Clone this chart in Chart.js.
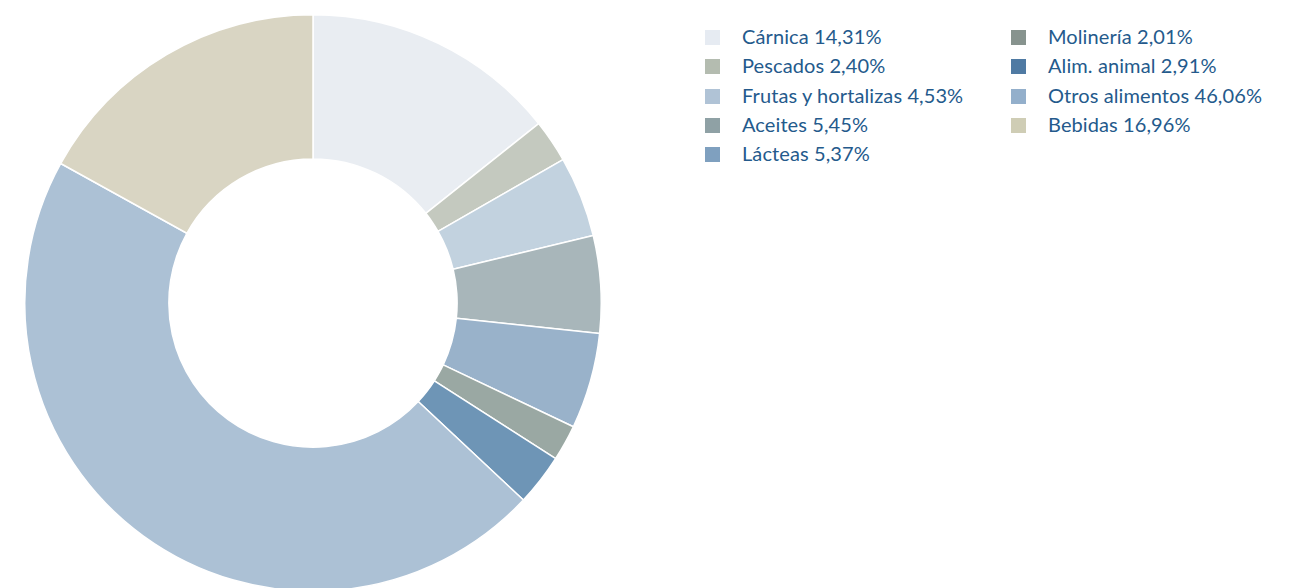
<!DOCTYPE html>
<html><head><meta charset="utf-8">
<script src="https://cdn.jsdelivr.net/npm/chart.js@4/dist/chart.umd.min.js"></script>
<style>
html,body{margin:0;padding:0;background:#fff;width:1298px;height:588px;overflow:hidden;position:relative;}
#wrap{position:absolute;left:24px;top:14px;width:578px;height:578px;}
.leg{position:absolute;font-family:Lato,sans-serif;font-size:20px;letter-spacing:0.1px;color:#245a8c;white-space:nowrap;}
.leg .sw{position:absolute;width:15px;height:15px;top:4px;}
.leg .tx{position:absolute;left:37px;top:-1px;line-height:22px;}
</style></head><body>
<div id="wrap"><canvas id="c"></canvas></div>
<div id="legend"></div>
<script>
const categories = ["Cárnica","Pescados","Frutas y hortalizas","Aceites","Lácteas","Molinería","Alim. animal","Otros alimentos","Bebidas"];
const values = [14.31,2.40,4.53,5.45,5.37,2.01,2.91,46.06,16.96];
const valueLabels = ["14,31%","2,40%","4,53%","5,45%","5,37%","2,01%","2,91%","46,06%","16,96%"];
const sliceColors = ["#e9edf2","#c4c9bf","#c2d2df","#a8b6ba","#99b2ca","#9aa8a3","#6e95b6","#acc1d5","#d9d5c3"];
const swatchColors = ["#e6ebf2","#b4bcb0","#b0c3d6","#8fa1a5","#7fa0bf","#87938e","#4f7aa3","#93afcb","#cfcdb5"];

new Chart(document.getElementById('c'), {
  type: 'doughnut',
  data: { labels: categories, datasets: [{ data: values, backgroundColor: sliceColors, borderColor: '#ffffff', borderWidth: 1.5 }] },
  options: {
    responsive: true, maintainAspectRatio: false, animation: false,
    cutout: '50%',
    layout: { padding: 0 },
    plugins: { legend: { display: false }, tooltip: { enabled: false } }
  }
});

const leg = document.getElementById('legend');
const colX = [705, 1011], rowY0 = 26, rowH = 29.3;
categories.forEach((name, i) => {
  const col = i < 5 ? 0 : 1, row = i < 5 ? i : i - 5;
  const d = document.createElement('div');
  d.className = 'leg';
  d.style.left = colX[col] + 'px';
  d.style.top = (rowY0 + row * rowH) + 'px';
  d.innerHTML = '<span class="sw" style="background:' + swatchColors[i] + '"></span><span class="tx">' + name + ' ' + valueLabels[i] + '</span>';
  leg.appendChild(d);
});
</script>
</body></html>
